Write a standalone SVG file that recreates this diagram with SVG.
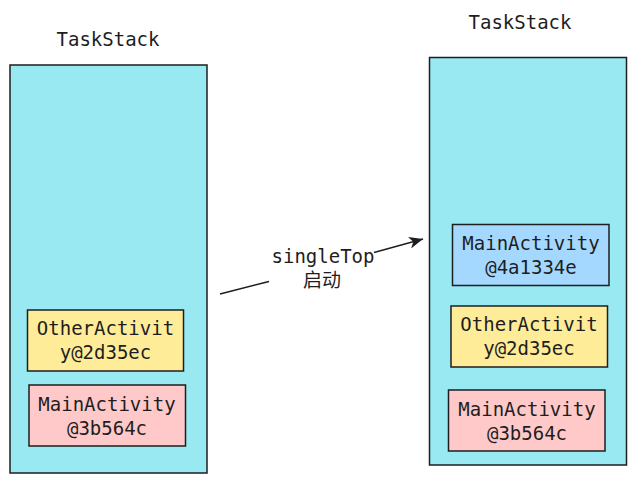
<svg xmlns="http://www.w3.org/2000/svg" width="636" height="483" viewBox="0 0 636 483">
<defs>
<style>
text{font-family:"DejaVu Sans Mono","Liberation Mono","Noto Sans CJK SC",monospace;font-size:19px;fill:#1e1e1e;text-anchor:middle}
.cjk{font-family:"Noto Sans CJK SC",sans-serif;font-size:19px}
.box{stroke:#1e1e1e;stroke-width:1.5}
.stack{fill:#99e9f2}
.yellow{fill:#ffec99}
.pink{fill:#ffc9c9}
.blue{fill:#a5d8ff}
.conn{stroke:#1e1e1e;stroke-width:1.5;fill:none}
</style>
<marker id="ah" markerWidth="16" markerHeight="12" refX="14" refY="6" orient="auto" markerUnits="userSpaceOnUse">
<path d="M0,0 L14,6 L0,12 L4,6 Z" fill="#1e1e1e"/>
</marker>
</defs>
<g id="stack-left">
<rect class="box stack" x="10" y="65" width="197" height="408"/>
<text x="108" y="46">TaskStack</text>
</g>
<g id="other-left">
<rect class="box yellow" x="27.5" y="310" width="156" height="61"/>
<text x="105.5" y="335">OtherActivit</text>
<text x="105.5" y="359">y@2d35ec</text>
</g>
<g id="main-left">
<rect class="box pink" x="29" y="385" width="156.5" height="61"/>
<text x="107" y="411">MainActivity</text>
<text x="107" y="435">@3b564c</text>
</g>
<g id="stack-right">
<rect class="box stack" x="429.5" y="57.5" width="197" height="407.5"/>
<text x="520" y="29">TaskStack</text>
</g>
<g id="main-right-top">
<rect class="box blue" x="452.5" y="224.5" width="156.5" height="61"/>
<text x="531" y="250">MainActivity</text>
<text x="531" y="274">@4a1334e</text>
</g>
<g id="other-right">
<rect class="box yellow" x="451" y="306" width="156.5" height="61"/>
<text x="529" y="331">OtherActivit</text>
<text x="529" y="355">y@2d35ec</text>
</g>
<g id="main-right">
<rect class="box pink" x="448.5" y="390" width="156.5" height="61"/>
<text x="527" y="416">MainActivity</text>
<text x="527" y="440">@3b564c</text>
</g>
<g id="connectors">
<path class="conn" d="M220,294 L269,281.5"/>
<path class="conn" d="M374,252.5 L423,239" marker-end="url(#ah)"/>
<text x="323" y="263">singleTop</text>
<text class="cjk" x="322" y="287">启动</text>
</g>
</svg>
